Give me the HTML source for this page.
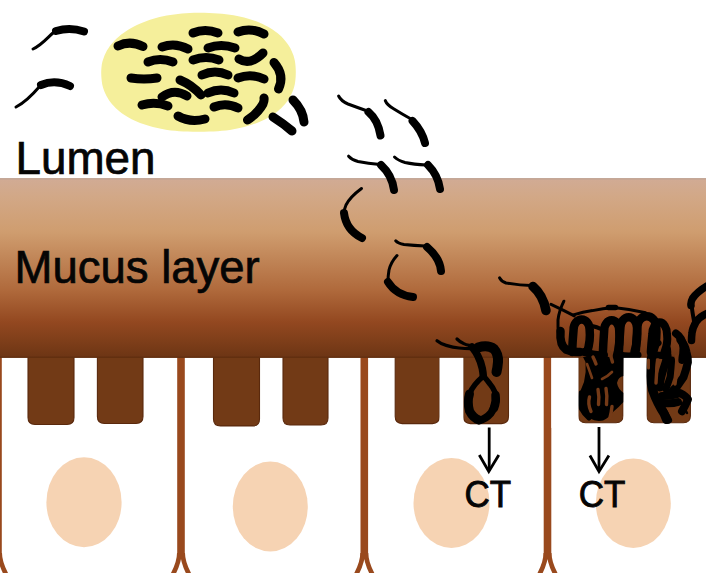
<!DOCTYPE html>
<html><head><meta charset="utf-8"><title>Mucus layer</title>
<style>
html,body{margin:0;padding:0;background:#fff;}
body{width:706px;height:573px;overflow:hidden;position:relative;}
svg{position:absolute;left:0;top:0;display:block;}
svg text{font-family:"Liberation Sans",sans-serif;fill:#050505;}
</style></head>
<body>
<svg width="706" height="573" viewBox="0 0 706 573">
<defs>
<linearGradient id="muc" x1="0" y1="0" x2="0" y2="1">
<stop offset="0" stop-color="#D1AB95"/>
<stop offset="0.1" stop-color="#D2A887"/>
<stop offset="0.3" stop-color="#CF9D6F"/>
<stop offset="0.62" stop-color="#B06A3C"/>
<stop offset="0.8" stop-color="#934820"/>
<stop offset="1" stop-color="#6C3514"/>
</linearGradient>
</defs>
<rect width="706" height="573" fill="#fff"/>
<!-- nuclei -->
<g fill="#F6D3B3">
<ellipse cx="84" cy="502.3" rx="37.6" ry="45"/>
<ellipse cx="270.3" cy="506.5" rx="37.5" ry="45"/>
<ellipse cx="451.5" cy="503" rx="38" ry="45"/>
<ellipse cx="633.3" cy="503.2" rx="37.5" ry="44.8"/>
</g>
<!-- cell borders -->
<g fill="none" stroke="#99491D" stroke-width="7.6">
<path d="M-2,350 V556"/>
<path d="M181,350 V557"/>
<path d="M364.3,350 V557"/>
<path d="M547.5,350 V557"/>
</g>
<g fill="none" stroke="#99491D" stroke-width="4.6">
<path d="M-0.3,553 C-0.3,561 2,567 7,576"/>
<path d="M179.3,553 C179.3,561 177.0,567 172.0,576 M182.7,553 C182.7,561 185.0,567 190.0,576"/>
<path d="M362.6,553 C362.6,561 360.3,567 355.3,576 M366.0,553 C366.0,561 368.3,567 373.3,576"/>
<path d="M545.8,553 C545.8,561 543.5,567 538.5,576 M549.2,553 C549.2,561 551.5,567 556.5,576"/>
</g>
<!-- microvilli blocks -->
<g fill="#723A16" stroke="#5A290D" stroke-width="1.1">
<path d="M28,350 H74 V417.5 Q74,424.5 67,424.5 H35 Q28,424.5 28,417.5 Z"/>
<path d="M97.4,350 H143 V416.5 Q143,423.5 136,423.5 H104.4 Q97.4,423.5 97.4,416.5 Z"/>
<path d="M213.5,350 H259.5 V418.9 Q259.5,425.9 252.5,425.9 H220.5 Q213.5,425.9 213.5,418.9 Z"/>
<path d="M283,350 H328 V418 Q328,425 321,425 H290 Q283,425 283,418 Z"/>
<path d="M395.2,350 H439.4 V416.6 Q439.4,423.6 432.4,423.6 H402.2 Q395.2,423.6 395.2,416.6 Z"/>
<path d="M463.5,350 H508.5 V416.6 Q508.5,423.6 501.5,423.6 H470.5 Q463.5,423.6 463.5,416.6 Z"/>
<path d="M578.6,350 H623 V415.8 Q623,422.8 616,422.8 H585.6 Q578.6,422.8 578.6,415.8 Z"/>
<path d="M647,350 H690.4 V415.8 Q690.4,422.8 683.4,422.8 H654 Q647,422.8 647,415.8 Z"/>
</g>
<!-- mucus band -->
<rect x="0" y="178.2" width="706" height="179.7" fill="url(#muc)"/>
<rect x="0" y="178.2" width="706" height="1.3" fill="#BFA494"/>
<rect x="0" y="356.5" width="706" height="1.4" fill="#52250B" opacity="0.4"/>
<!-- yellow ellipse -->
<path d="M295.8,72.3 L295.7,75.9 L295.5,78.8 L295.2,81.5 L294.8,84.2 L294.2,86.7 L293.5,89.1 L292.6,91.4 L291.6,93.7 L290.5,96.0 L289.3,98.1 L288.0,100.2 L286.5,102.2 L284.9,104.2 L283.2,106.1 L281.4,108.0 L279.4,109.8 L277.4,111.5 L275.2,113.2 L272.9,114.8 L270.5,116.3 L268.0,117.8 L265.4,119.2 L262.6,120.5 L259.8,121.8 L256.9,123.0 L253.8,124.1 L250.7,125.1 L247.5,126.1 L244.1,127.0 L240.7,127.8 L237.2,128.6 L233.5,129.3 L229.8,129.9 L226.0,130.4 L222.0,130.8 L217.9,131.2 L213.6,131.4 L209.1,131.6 L204.3,131.8 L198.5,131.8 L192.7,131.8 L187.9,131.6 L183.4,131.4 L179.1,131.2 L175.0,130.8 L171.0,130.4 L167.2,129.9 L163.5,129.3 L159.8,128.6 L156.3,127.8 L152.9,127.0 L149.5,126.1 L146.3,125.1 L143.2,124.1 L140.1,123.0 L137.2,121.8 L134.4,120.5 L131.6,119.2 L129.0,117.8 L126.5,116.3 L124.1,114.8 L121.8,113.2 L119.6,111.5 L117.6,109.8 L115.6,108.0 L113.8,106.1 L112.1,104.2 L110.5,102.2 L109.0,100.2 L107.7,98.1 L106.5,96.0 L105.4,93.7 L104.4,91.4 L103.5,89.1 L102.8,86.7 L102.2,84.2 L101.8,81.5 L101.5,78.8 L101.3,75.9 L101.2,72.3 L101.3,69.6 L101.5,67.0 L101.8,64.6 L102.3,62.1 L103.0,59.8 L103.8,57.4 L104.7,55.1 L105.7,52.9 L106.9,50.6 L108.3,48.5 L109.7,46.3 L111.3,44.3 L113.1,42.2 L114.9,40.2 L116.9,38.3 L119.0,36.4 L121.2,34.6 L123.5,32.9 L126.0,31.2 L128.6,29.5 L131.2,28.0 L134.0,26.5 L136.9,25.0 L139.8,23.7 L142.9,22.4 L146.1,21.2 L149.3,20.0 L152.6,19.0 L156.0,18.0 L159.5,17.1 L163.1,16.3 L166.7,15.6 L170.4,14.9 L174.2,14.4 L178.0,13.9 L181.9,13.5 L185.8,13.2 L189.9,13.0 L194.0,12.8 L198.5,12.8 L204.3,12.8 L209.1,13.0 L213.6,13.2 L217.9,13.4 L222.0,13.8 L226.0,14.2 L229.8,14.7 L233.5,15.3 L237.2,16.0 L240.7,16.8 L244.1,17.6 L247.5,18.5 L250.7,19.5 L253.8,20.5 L256.9,21.6 L259.8,22.8 L262.6,24.1 L265.4,25.4 L268.0,26.8 L270.5,28.3 L272.9,29.8 L275.2,31.4 L277.4,33.1 L279.4,34.8 L281.4,36.6 L283.2,38.5 L284.9,40.4 L286.5,42.4 L288.0,44.4 L289.3,46.5 L290.5,48.6 L291.6,50.9 L292.6,53.2 L293.5,55.5 L294.2,57.9 L294.8,60.4 L295.2,63.1 L295.5,65.8 L295.7,68.7 Z" fill="#F5EF9B"/>
<!-- text -->
<text x="15.5" y="173.5" font-size="45.8" stroke="#050505" stroke-width="0.7">Lumen</text>
<text x="14.5" y="282.6" font-size="45.5" stroke="#050505" stroke-width="0.7">Mucus layer</text>
<text transform="translate(464.6,506.8) scale(0.945,1)" font-size="37" stroke="#050505" stroke-width="0.9">CT</text>
<text transform="translate(578.8,506.8) scale(0.945,1)" font-size="37" stroke="#050505" stroke-width="0.9">CT</text>
<!-- arrows -->
<g fill="none" stroke="#000" stroke-width="2.8">
<path d="M489.2,427.5 V471"/>
<path d="M479.3,455 L488.8,471.5 L498.8,455"/>
<path d="M599,427 V471"/>
<path d="M589.9,455.5 L599,471.5 L608.9,455.5"/>
</g>
<!-- bacteria bodies -->
<g fill="none" stroke="#000" stroke-width="9" stroke-linecap="round">
<path d="M118,46 Q130,40 143,46.5"/>
<path d="M162,47 Q175,42 188,49"/>
<path d="M193,33 Q205,28 218,33"/>
<path d="M238,32 Q251,27 264,34"/>
<path d="M208,48 Q221,43 235,48"/>
<path d="M193,60 Q206,55 219,60"/>
<path d="M148,62 Q160,57 173,62"/>
<path d="M239,59 Q250,66 263,53"/>
<path d="M274,62.5 Q285,75 278.5,89"/>
<path d="M202,75 Q215,69 228,75"/>
<path d="M238,78 Q251,73 264,79"/>
<path d="M131,78 Q144,80 157,78"/>
<path d="M180,80 Q192,85 201,95"/>
<path d="M208,93 Q221,87 234,93"/>
<path d="M162,97 Q174,88 187,96"/>
<path d="M142,105 Q155,101 168,106"/>
<path d="M214,107 Q226,102 238,108"/>
<path d="M178,116 Q190,123 205,119"/>
<path d="M247.5,120 Q258,113 263,104 Q264.5,100.5 264,98"/>
<path d="M273,117 Q284,124 292,131"/>
<path d="M293,100 Q303,110 304,122"/>
</g>
<g fill="none" stroke="#000" stroke-width="8" stroke-linecap="round">
<path d="M56,31 Q70,27 84,31.5"/>
<path d="M41,85 Q55,79 70,86"/>
<path d="M368.5,112 Q378,120 380.5,135.5"/>
<path d="M412.6,121 Q422,131 425,143"/>
<path d="M381,165 Q392,175 394,190"/>
<path d="M428,165 Q438,175 440,189"/>
<path d="M344,213 Q346,230 362,238"/>
<path d="M427,247 Q440,258 441,271"/>
<path d="M388,282 Q396,295 413,297"/>
<path d="M533,286.5 Q543,295 546,310.5" stroke-width="9.5"/>
</g>
<!-- flagella -->
<g fill="none" stroke="#000" stroke-width="3" stroke-linecap="round">
<path d="M54,32 C48,37 42,45 33,49"/>
<path d="M40,86 C34,93 26,102 16,107"/>
<path d="M338.6,96 Q341,101 348,104 Q356,107 366,110.5"/>
<path d="M385.3,100.6 Q387,105 394,109 Q402,114 411,119"/>
<path d="M348.6,156.2 Q352,160 358,161.5 Q368,163.5 380,164.5"/>
<path d="M394.5,157 Q398,160.5 405,162.5 Q414,164.5 426,165"/>
<path d="M361.5,188.5 Q350,197 346,205 Q344,210 343.5,214"/>
<path d="M395.7,240.8 Q398,243.5 404,244.5 Q414,245.5 425,246"/>
<path d="M397,255.5 Q391,262 389,270 Q388,276 388,281"/>
<path d="M499.6,277.8 Q501,281 506,283 Q520,285.5 531,285.5"/>
</g>
<!-- cluster 1 -->
<g fill="none" stroke="#000" stroke-width="3.2" stroke-linecap="round" stroke-linejoin="round">
<path d="M437,340.7 Q441,344 446.2,345.4 Q453,347.5 459,348 Q465,348.6 470,348.6"/>
<path d="M457,339 Q460,342 463.2,343.3 Q466,344.8 469.2,345.4 Q473,346.4 476,347"/>
</g>
<g fill="none" stroke="#000" stroke-width="8" stroke-linecap="round" stroke-linejoin="round">
<path d="M472,347 Q476,352 478,356.2 Q481,362 482.3,368.4 Q483,372 483.3,376" stroke-width="7.5"/>
<path d="M478,347.5 Q488,344.5 494,349 Q498.5,354 498,362 Q497.5,368 496.5,372" stroke-width="10"/>
<path d="M483.5,376 Q473,385 470,393 Q467.5,402 469.5,410 Q473,418 479,420.5 Q486,419 491,413 Q496,406 496.5,400 Q496,391 490,384 Q487,380 483.5,376" stroke-width="5.5"/>
<path d="M479,420.5 Q486,419 491,413 Q495,407 496,400" stroke-width="7.5"/>
<path d="M469.5,394 Q467,402 469.5,411 Q473,418 479,420" stroke-width="9"/>
<path d="M495.5,395 Q496.5,402 494,408" stroke-width="8.5"/>
</g>
<!-- cluster 2 (tangle) -->
<g fill="none" stroke="#000" stroke-width="3" stroke-linecap="round" stroke-linejoin="round">
<path d="M551,304.3 Q563,309.8 574.3,315.9"/>
<path d="M563.9,301.2 Q559,311 558,320 Q557.8,328 558.4,333"/>
<path d="M573.4,314.9 Q583,312 592.5,310.6 Q603,308.5 613.7,307.4 Q630,309 645.6,312.7"/>
</g>
<g fill="none" stroke="#000" stroke-width="8.5" stroke-linecap="round" stroke-linejoin="round">
<!-- upper tangle -->
<path d="M560.5,331 Q559.5,345 566,349.5 Q573,352.5 580,352" stroke-width="8.5"/>
<path d="M572.1,352.0 Q572.6,340.8 573.6,329.5 A8.0,10.0 0 0 1 589.6,329.5 Q590.8,340.8 587.1,352.0" stroke-width="8.5"/>
<path d="M592,326 Q597,327 601,329" stroke-width="4"/>
<path d="M602.7,357.0 Q603.2,343.6 604.2,330.3 A7.5,10.0 0 0 1 619.2,330.3 Q620.4,343.6 616.7,357.0" stroke-width="8.5"/>
<path d="M618.9,352.0 Q619.4,339.9 620.4,327.8 A8.3,10.5 0 0 1 637.0,327.8 Q638.2,339.9 634.5,352.0" stroke-width="8.5"/>
<path d="M635.9,350.0 Q636.4,338.4 637.4,326.8 A9.4,10.5 0 0 1 656.2,326.8 Q657.4,338.4 653.7,350.0" stroke-width="8.5"/>
<path d="M650.7,352.0 Q651.2,343.1 652.2,334.3 A7.4,12.0 0 0 1 667.0,334.3 Q668.2,343.1 664.5,352.0" stroke-width="8"/>
<path d="M676,333.5 Q683,338 683.5,348 Q683.5,355 682,360" stroke-width="8"/>
<path d="M608.4,307.6 L615.5,307.6" stroke-width="5.5"/>
<path d="M584,352 Q596,356 604,355" stroke-width="8"/>
<path d="M620,355 Q628,357 638,355" stroke-width="7"/>
<path d="M656,355 L668,356" stroke-width="7"/>
<!-- lower left block -->
<path d="M583,357 L624,357 L623.7,376 Q618,377 617,383 Q618,389 623.7,393 L623.5,402 Q619,407 613,412 Q609,418 603,420.5 Q596,422 590,418.5 Q584,414 581.5,408 Q579.5,400 580,392 Q582,387 584,382 Q586.5,372 585.5,362 Z" fill="#000" stroke="none"/>
<path d="M581,393 Q579.5,402 581,408 Q584,414 589,418" stroke-width="5"/>
</g>
<g fill="none" stroke="#743A17" stroke-width="3.4" stroke-linecap="round">
<path d="M589.5,397 Q587.5,404 591,411.5"/>
<path d="M598,389.5 Q599.5,397 598.5,404.5"/>
<path d="M606,388.5 Q607.5,396 606.5,404.5"/>
<path d="M612,406.5 Q611.5,412 610,417.5"/>
<path d="M593,357 Q595,361 596,364"/>
<path d="M609.5,352 Q611,357 612.5,362" stroke="#6E3715"/>
<path d="M587,364 Q590,372 592,378" stroke-width="2.6"/>
<path d="M612,372 Q607,377 602,379" stroke-width="2.6"/>
</g>
<g fill="none" stroke="#000" stroke-width="8.5" stroke-linecap="round" stroke-linejoin="round">
<!-- lower right block -->
<path d="M655,344 Q652,350 651.5,358 Q650.5,368 650.5,376 Q651,384 652.5,390 Q655,397 658,403 Q661,409 664,413.5 Q665.5,417 666.5,419.5" stroke-width="9"/>
<path d="M667,349 Q668,356 665.7,362.2 Q663,370 661.2,377.1 Q660,382 659.7,387.5" stroke-width="8"/>
<path d="M671.6,360 Q671,370 670.1,377.1 Q668,384 665.7,389" stroke-width="7"/>
<path d="M680.5,340 Q685,345 686.4,351.9 Q688,357 687.9,362.2 Q686,370 683.5,377.1 Q680,382 677.5,386 Q674,389 671.6,391.9" stroke-width="8"/>
<path d="M662,396 Q672,396 680,393 Q686,396 688,399.3 Q685,406 682,411.2" stroke-width="8"/>
<path d="M662,403 Q672,404 678,402" stroke-width="8"/>
<path d="M663,409.7 Q666,415 668.6,420.1" stroke-width="7"/>
<path d="M682,404 L687,413" stroke-width="2.5"/>
<path d="M658,343 Q655,340 652,342" stroke-width="7"/>
</g>
<g fill="none" stroke="#743A17" stroke-width="3.4" stroke-linecap="round">
<path d="M657.8,360 Q656.5,372 656,383"/>
<path d="M676.5,356 Q677.5,368 675,384"/>
<path d="M648.5,360 L648.5,368" stroke-width="3"/>
</g>
<g fill="none" stroke="#000" stroke-width="8.5" stroke-linecap="round" stroke-linejoin="round">
<!-- right edge bacterium -->
<path d="M707,286 Q697,292 692.5,298.5 Q690.5,302 691,305.5" stroke-width="7.5"/>
<path d="M707,313.5 Q699,317 696,322 Q692.5,328 692,333 Q691.5,337 691.5,340.5" stroke-width="7.5"/>
<path d="M691.5,305 Q692.5,313 694,321" stroke-width="4"/>
</g>
<!-- clean gaps -->
<rect x="551.4" y="357.9" width="27.1" height="70" fill="#fff"/>
<rect x="623.6" y="357.9" width="22.8" height="70" fill="#fff"/>
<rect x="439.5" y="357.9" width="23.9" height="70" fill="#fff"/>
</svg>
</body></html>
